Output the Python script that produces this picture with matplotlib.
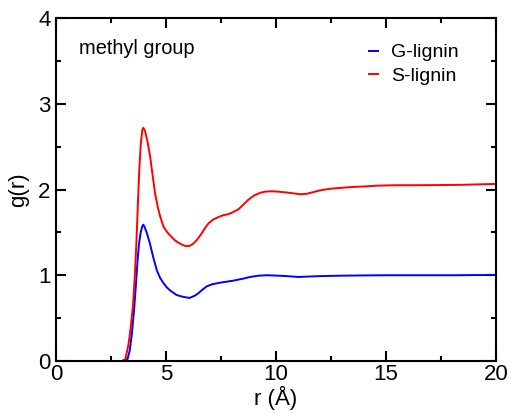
import matplotlib
matplotlib.use("Agg")
import matplotlib.pyplot as plt
from matplotlib.ticker import MultipleLocator

plt.rcParams["font.family"] = ["Liberation Sans", "DejaVu Sans"]

# g(r) of methyl group
r_s = [3.0, 3.15, 3.3, 3.4, 3.5, 3.58, 3.65, 3.72, 3.78, 3.85, 3.92, 3.97,
       4.05, 4.15, 4.27, 4.4, 4.5, 4.62, 4.73, 4.88, 5.03, 5.2, 5.35, 5.5,
       5.7, 5.9, 6.05, 6.2, 6.4, 6.6, 6.77, 6.95, 7.15, 7.4, 7.6, 7.8, 8.0,
       8.3, 8.5, 8.74, 9.0, 9.27, 9.5, 9.8, 10.1, 10.5, 10.8, 11.1, 11.4,
       11.7, 12.0, 12.5, 13.0, 13.5, 14.0, 14.6, 15.5, 16.5, 17.5, 18.5,
       19.2, 20.0]
g_s = [0.0, 0.02, 0.2, 0.4, 0.65, 0.98, 1.35, 1.82, 2.2, 2.52, 2.69, 2.72,
       2.68, 2.57, 2.40, 2.15, 1.96, 1.80, 1.69, 1.57, 1.51, 1.46, 1.42, 1.39,
       1.36, 1.34, 1.34, 1.36, 1.41, 1.48, 1.55, 1.61, 1.65, 1.68, 1.70, 1.71,
       1.73, 1.77, 1.82, 1.88, 1.93, 1.96, 1.975, 1.98, 1.975, 1.965, 1.955,
       1.945, 1.95, 1.97, 1.99, 2.01, 2.02, 2.03, 2.035, 2.045, 2.05, 2.05,
       2.052, 2.055, 2.06, 2.065]

r_g = [3.0, 3.25, 3.35, 3.45, 3.55, 3.63, 3.71, 3.78, 3.85, 3.92, 3.97, 4.03,
       4.12, 4.27, 4.42, 4.58, 4.73, 4.88, 5.03, 5.2, 5.48, 5.75, 6.06, 6.3,
       6.47, 6.65, 6.85, 7.1, 7.45, 8.06, 8.5, 8.82, 9.2, 9.58, 10.1, 10.5,
       11.0, 11.5, 12.0, 13.0, 14.0, 15.0, 16.0, 17.0, 18.0, 19.0, 20.0]
g_g = [0.0, 0.02, 0.12, 0.32, 0.6, 0.88, 1.18, 1.38, 1.50, 1.57, 1.59, 1.56,
       1.50, 1.37, 1.21, 1.06, 0.97, 0.91, 0.86, 0.82, 0.77, 0.75, 0.735, 0.76,
       0.79, 0.83, 0.87, 0.895, 0.913, 0.937, 0.96, 0.98, 0.995, 1.0, 0.995,
       0.99, 0.98, 0.985, 0.99, 0.995, 0.998, 1.0, 1.0, 1.0, 1.0, 1.002, 1.003]

fig = plt.figure(figsize=(5.11, 4.13), dpi=100)
ax = fig.add_axes([0.1096, 0.1259, 0.861, 0.8305])

ax.plot(r_g, g_g, color="#0000ff", lw=1.4, label="G-lignin")
ax.plot(r_s, g_s, color="#ff0000", lw=1.4, label="S-lignin")

ax.set_xlim(0, 20)
ax.set_ylim(0, 4)
ax.xaxis.set_major_locator(MultipleLocator(5))
ax.xaxis.set_minor_locator(MultipleLocator(2.5))
ax.yaxis.set_major_locator(MultipleLocator(1))
ax.yaxis.set_minor_locator(MultipleLocator(0.5))
ax.tick_params(which="both", direction="in", top=True, right=True,
               width=1.5, labelsize=16)
ax.tick_params(which="major", length=7)
ax.tick_params(which="minor", length=3.5)
ax.tick_params(axis="x", pad=2)
ax.tick_params(axis="y", pad=4)
for s in ax.spines.values():
    s.set_linewidth(1.5)

ax.set_xlabel("r (Å)", fontsize=16, labelpad=1)
ax.set_ylabel("g(r)", fontsize=16, labelpad=6)

ax.text(1.05, 3.64, "methyl group", fontsize=14.4, va="center", ha="left")
ax.legend(loc="upper left", bbox_to_anchor=(0.711, 0.925), frameon=False,
          fontsize=14, handlelength=0.45, handletextpad=0.7,
          labelspacing=0.3, borderpad=0, borderaxespad=0)

fig.savefig("out.png", dpi=100)
